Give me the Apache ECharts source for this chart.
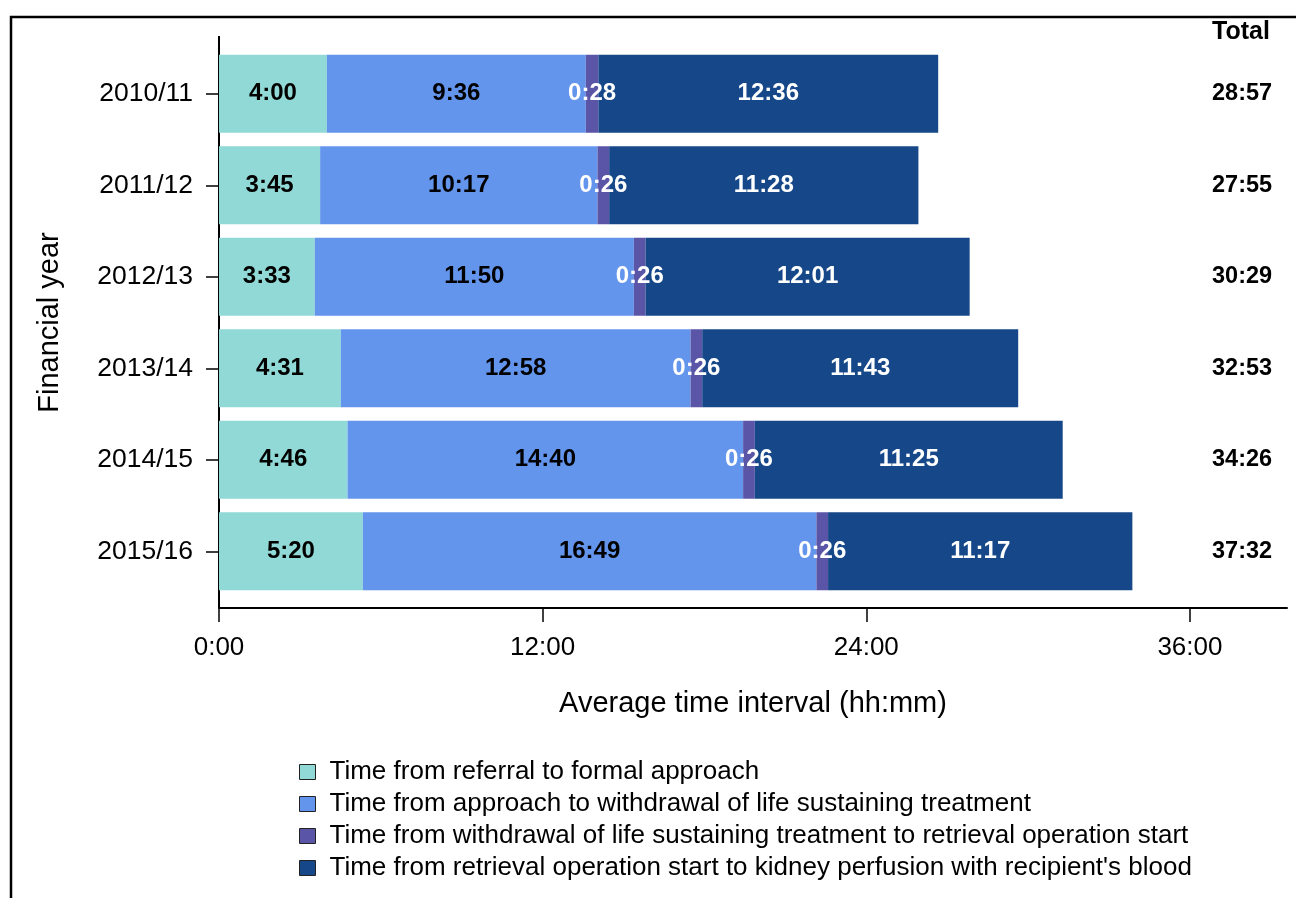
<!DOCTYPE html>
<html>
<head>
<meta charset="utf-8">
<script src="https://cdn.jsdelivr.net/npm/echarts@6/dist/echarts.min.js"></script>
<style>
html,body{margin:0;padding:0;background:#fff;}
#chart{width:1296px;height:898px;}
</style>
</head>
<body>
<div id="chart"></div>
<script>
const years = ['2010/11','2011/12','2012/13','2013/14','2014/15','2015/16'];
const seriesNames = [
  'Time from referral to formal approach',
  'Time from approach to withdrawal of life sustaining treatment',
  'Time from withdrawal of life sustaining treatment to retrieval operation start',
  "Time from retrieval operation start to kidney perfusion with recipient's blood"
];
const referralToApproach = ['4:00','3:45','3:33','4:31','4:46','5:20'];
const approachToWithdrawal = ['9:36','10:17','11:50','12:58','14:40','16:49'];
const withdrawalToRetrieval = ['0:28','0:26','0:26','0:26','0:26','0:26'];
const retrievalToPerfusion = ['12:36','11:28','12:01','11:43','11:25','11:17'];
const totals = ['28:57','27:55','30:29','32:53','34:26','37:32'];
const xTicks = [0, 12, 24, 36];

const colors = ['#91D9D6', '#6495EC', '#5B55A8', '#164889'];
const labelColors = ['#000', '#000', '#fff', '#fff'];
const FONT = '"Liberation Sans", Arial, sans-serif';

function toHours(s) {
  const p = s.split(':');
  return Number(p[0]) + Number(p[1]) / 60;
}

const rawSets = [referralToApproach, approachToWithdrawal, withdrawalToRetrieval, retrievalToPerfusion];

const series = rawSets.map((set, i) => ({
  name: seriesNames[i],
  type: 'bar',
  stack: 'total',
  barWidth: 78,
  itemStyle: { color: colors[i] },
  label: {
    show: true,
    position: 'inside',
    color: labelColors[i],
    fontFamily: FONT,
    fontWeight: 'bold',
    fontSize: 24,
    formatter: p => set[p.dataIndex]
  },
  emphasis: { disabled: true },
  data: set.map(toHours)
}));

const chart = echarts.init(document.getElementById('chart'), null, { renderer: 'canvas' });
chart.setOption({
  animation: false,
  backgroundColor: '#fff',
  textStyle: { fontFamily: FONT },
  grid: { left: 219, top: 48, width: 1068, height: 549, containLabel: false },
  xAxis: {
    type: 'value',
    min: 0,
    max: 39.6,
    interval: 12,
    offset: 11,
    splitLine: { show: false },
    axisLine: { show: true, lineStyle: { color: '#000', width: 2 } },
    axisTick: { show: true, length: 14, customValues: xTicks, lineStyle: { color: '#000', width: 1.5 } },
    axisLabel: {
      customValues: xTicks,
      margin: 27,
      color: '#000',
      fontSize: 26,
      fontFamily: FONT,
      formatter: v => Math.round(v) + ':00'
    },
    name: 'Average time interval (hh:mm)',
    nameLocation: 'middle',
    nameGap: 81,
    nameTextStyle: { fontSize: 29, color: '#000', fontFamily: FONT }
  },
  yAxis: [{
    type: 'category',
    data: years,
    inverse: true,
    axisLine: { show: false },
    axisTick: { show: true, alignWithLabel: true, length: 13, lineStyle: { color: '#000', width: 1.5 } },
    axisLabel: { margin: 26, color: '#000', fontSize: 26.5, fontFamily: FONT },
    name: 'Financial year',
    nameLocation: 'middle',
    nameGap: 155,
    nameTextStyle: { fontSize: 29, color: '#000', fontFamily: FONT }
  }, {
    type: 'category',
    data: totals,
    inverse: true,
    position: 'right',
    offset: -75,
    axisLine: { show: false },
    axisTick: { show: false },
    axisLabel: { margin: 0, align: 'left', color: '#000', fontSize: 23.5, fontWeight: 'bold', fontFamily: FONT },
    name: 'Total',
    nameLocation: 'start',
    nameGap: 3,
    nameTextStyle: { fontSize: 25, fontWeight: 'bold', color: '#000', fontFamily: FONT, align: 'left', verticalAlign: 'bottom' }
  }],
  legend: {
    orient: 'vertical',
    left: 294,
    top: 754,
    itemWidth: 16,
    itemHeight: 15,
    itemGap: 6,
    icon: 'rect',
    selectedMode: false,
    itemStyle: { borderColor: '#222', borderWidth: 1 },
    textStyle: { fontSize: 26, color: '#000', fontFamily: FONT, padding: [0, 0, 0, 9] },
    data: seriesNames
  },
  graphic: [
    { type: 'line', silent: true, shape: { x1: 219, y1: 36, x2: 219, y2: 608 }, style: { stroke: '#000', lineWidth: 2 } },
    { type: 'polyline', silent: true, shape: { points: [[11, 898], [11, 17], [1296, 17]] }, style: { stroke: '#000', lineWidth: 2.5, fill: null } }
  ],
  series: series
});
</script>
</body>
</html>
